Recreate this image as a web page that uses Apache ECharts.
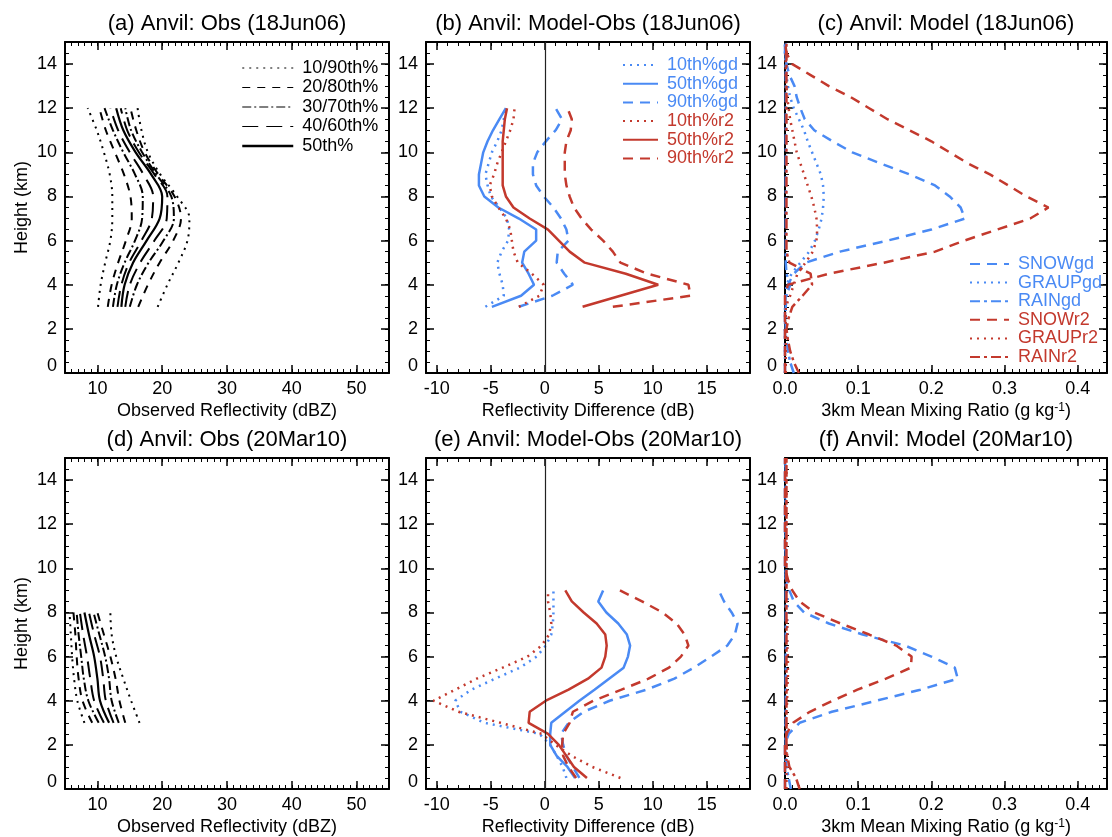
<!DOCTYPE html>
<html>
<head>
<meta charset="utf-8">
<script src="https://cdn.jsdelivr.net/npm/echarts@6/dist/echarts.min.js"></script>
<style>
  html, body { margin: 0; padding: 0; background: #fff; }
  #chart { width: 1112px; height: 837px; }
</style>
</head>
<body>
<div id="chart"></div>
<script>
// ---------- profile data ----------
// (a) observed reflectivity percentiles, 18Jun06 (dBZ) at heights H_A (km)
const H_A = [3, 4, 5, 6, 7, 8, 9, 10, 11, 12];
const A_P10 = [10.1, 10.5, 11.2, 12.0, 12.3, 12.3, 11.9, 11.0, 9.9, 8.5];
const A_P20 = [11.6, 12.2, 13.2, 14.4, 15.3, 15.1, 14.1, 12.7, 11.3, 10.3];
const A_P30 = [12.4, 13.0, 14.2, 15.8, 16.9, 17.0, 15.8, 14.0, 12.4, 11.1];
const A_P40 = [13.1, 13.7, 14.9, 16.8, 18.4, 18.6, 17.1, 15.0, 13.2, 12.0];
const A_P50 = [13.7, 14.2, 15.5, 17.6, 19.6, 20.0, 18.3, 15.9, 14.0, 12.9];
const A_P60 = [14.3, 15.0, 16.6, 18.8, 20.7, 20.8, 18.8, 16.4, 14.6, 13.6];
const A_P70 = [15.0, 16.1, 17.9, 20.2, 21.8, 21.4, 19.1, 16.9, 15.2, 14.3];
const A_P80 = [16.3, 17.8, 19.6, 21.7, 22.9, 21.9, 19.4, 17.3, 16.0, 15.1];
const A_P90 = [19.3, 20.8, 22.5, 23.9, 24.2, 22.3, 19.7, 17.8, 16.8, 16.2];

// (d) observed reflectivity percentiles, 20Mar10 (dBZ)
const H_D = [3, 4, 5, 6, 7, 8];
const D_P10 = [8.0, 6.9, 6.4, 6.1, 5.9, 5.7];
const D_P20 = [9.2, 7.7, 7.1, 6.8, 6.6, 6.3];
const D_P30 = [10.2, 8.6, 7.9, 7.5, 7.1, 6.8];
const D_P40 = [11.0, 9.5, 8.9, 8.4, 7.8, 7.3];
const D_P50 = [11.8, 10.4, 10.0, 9.5, 8.7, 8.0];
const D_P60 = [12.5, 11.3, 10.9, 10.4, 9.5, 8.7];
const D_P70 = [13.3, 12.2, 11.8, 11.2, 10.3, 9.4];
const D_P80 = [14.3, 13.4, 12.8, 12.0, 11.0, 10.0];
const D_P90 = [16.5, 15.2, 14.0, 12.9, 12.2, 12.0];

// (b) model minus observed reflectivity, 18Jun06 (dB)
const H_B = [3, 3.5, 4, 4.5, 5, 5.5, 6, 6.5, 7, 7.5, 8, 8.5, 9, 9.5, 10, 10.5, 11, 11.5, 12];
const B_GD10 = [-5.5, -3.8, -3.9, -4.2, -4.4, -4.0, -3.4, -3.3, -3.5, -4.2, -5.0, -5.3, -5.5, -5.2, -4.9, -4.4, -4.0, -3.8, -3.6];
const B_GD50 = [-4.9, -2.2, -1.0, -1.5, -2.1, -1.9, -0.8, -0.8, -2.4, -4.3, -5.6, -6.1, -6.1, -5.9, -5.7, -5.3, -4.8, -4.2, -3.6];
const B_GD90 = [-2.4, 0.7, 2.6, 1.8, 1.1, 1.2, 2.2, 2.0, 1.5, 0.8, -0.1, -0.8, -1.1, -1.1, -0.7, 0.1, 1.0, 1.6, 1.0];
const B_R210 = [-2.4, -0.5, -0.1, -1.2, -2.5, -2.9, -3.05, -3.2, -3.6, -4.3, -4.9, -5.1, -4.7, -4.4, -4.0, -3.6, -3.2, -2.9, -2.8];
const B_R250 = [3.5, 7.0, 10.5, 7.5, 3.7, 2.3, 1.3, 0.3, -1.4, -2.9, -3.6, -3.9, -3.9, -3.9, -3.9, -3.9, -3.8, -3.7, -3.5];
const B_R290 = [6.3, 13.5, 13.3, 9.5, 7.0, 6.3, 5.4, 4.3, 3.4, 2.7, 2.3, 2.0, 1.85, 1.85, 1.85, 2.0, 2.4, 2.5, 2.1];

// (e) model minus observed reflectivity, 20Mar10 (dB)
const H_E = [0.5, 1, 1.5, 2, 2.5, 3, 3.5, 4, 4.5, 5, 5.5, 6, 6.5, 7, 7.5, 8, 8.5, 9];
const E_GD10 = [2.0, 1.65, 1.1, 0.5, -0.5, -5.6, -7.8, -8.3, -6.8, -4.6, -2.3, -0.75, 0.1, 0.6, 0.75, 0.8, 0.8, 0.8];
const E_GD50 = [2.8, 2.1, 1.1, 0.5, 0.5, 0.6, 1.9, 3.2, 4.6, 5.95, 7.3, 7.7, 7.9, 7.6, 6.8, 5.7, 4.95, 5.4];
const E_GD90 = [3.2, 2.6, 2.0, 1.7, 1.5, 2.2, 3.6, 6.0, 9.4, 12.0, 13.8, 15.4, 16.9, 17.6, 17.85, 17.3, 16.6, 16.1];
const E_R210 = [7.0, 4.4, 2.5, 1.0, -0.3, -4.1, -8.0, -10.3, -8.3, -6.3, -3.9, -1.6, -0.3, 0.4, 0.6, 0.5, 0.3, 0.3];
const E_R250 = [3.9, 2.7, 2.0, 1.3, 0.3, -1.5, -1.4, 0.1, 2.2, 4.0, 5.25, 5.6, 5.73, 5.6, 4.8, 3.6, 2.5, 1.9];
const E_R290 = [2.9, 2.2, 1.7, 1.6, 1.7, 2.3, 2.6, 4.5, 7.1, 9.6, 11.5, 12.6, 13.3, 12.95, 12.2, 10.9, 9.0, 6.96];

// (c)/(f) 3 km mean hydrometeor mixing ratios (g/kg)
const H_C = [0, 0.5, 1, 1.5, 2, 2.5, 3, 3.5, 4, 4.5, 5, 5.5, 6, 6.5, 7, 7.5, 8, 8.5, 9, 9.5, 10, 10.5, 11, 11.5, 12, 12.5, 13, 13.5, 14, 14.5, 15];
const C_SNOWGD  = [0, 0, 0, 0, 0, 0, 0, 0.001, 0.004, 0.012, 0.028, 0.075, 0.14, 0.2, 0.246, 0.24, 0.225, 0.205, 0.17, 0.13, 0.092, 0.065, 0.04, 0.027, 0.021, 0.016, 0.013, 0.006, 0.002, 0, 0];
const C_GRAUPGD = [0, 0, 0, 0, 0, 0, 0, 0.001, 0.002, 0.009, 0.021, 0.033, 0.041, 0.046, 0.05, 0.052, 0.053, 0.052, 0.049, 0.043, 0.037, 0.031, 0.026, 0.019, 0.012, 0.007, 0.004, 0.002, 0.001, 0, 0];
const C_RAINGD  = [0.012, 0.007, 0.004, 0.002, 0.001, 0.001, 0.001, 0.002, 0.007, 0.002, 0.001, 0.001, 0.001, 0.001, 0.001, 0.001, 0.001, 0.001, 0.001, 0.001, 0.001, 0.001, 0.001, 0.001, 0.001, 0.001, 0.001, 0.001, 0.001, 0.001, 0.001];
const C_SNOWR2  = [0, 0, 0, 0, 0, 0, 0, 0, 0.004, 0.06, 0.135, 0.205, 0.245, 0.29, 0.335, 0.36, 0.33, 0.305, 0.28, 0.25, 0.225, 0.2, 0.17, 0.14, 0.115, 0.09, 0.06, 0.035, 0.01, 0.002, 0];
const C_GRAUPR2 = [0.001, 0.001, 0.001, 0.001, 0.001, 0.001, 0.001, 0.007, 0.012, 0.017, 0.028, 0.038, 0.043, 0.044, 0.043, 0.04, 0.036, 0.031, 0.026, 0.021, 0.016, 0.013, 0.01, 0.007, 0.005, 0.003, 0.002, 0.001, 0.001, 0.001, 0.001];
const C_RAINR2  = [0.019, 0.012, 0.007, 0.004, 0.002, 0.005, 0.01, 0.024, 0.037, 0.035, 0.006, 0.002, 0.002, 0.002, 0.002, 0.002, 0.002, 0.002, 0.002, 0.002, 0.002, 0.002, 0.002, 0.002, 0.002, 0.002, 0.002, 0.002, 0.002, 0.002, 0.002];

const F_SNOWGD  = [0, 0, 0, 0, 0, 0.005, 0.02, 0.064, 0.125, 0.185, 0.236, 0.232, 0.2, 0.164, 0.106, 0.06, 0.026, 0.012, 0.006, 0.002, 0, 0, 0, 0, 0, 0, 0, 0, 0, 0, 0];
const F_GRAUPGD = [0.001, 0.001, 0.001, 0.001, 0.001, 0.001, 0.001, 0.001, 0.002, 0.002, 0.003, 0.003, 0.003, 0.003, 0.003, 0.003, 0.003, 0.004, 0.002, 0.001, 0.001, 0.001, 0.001, 0.001, 0.001, 0.001, 0.001, 0.001, 0.001, 0.001, 0.001];
const F_RAINGD  = [0.008, 0.005, 0.002, 0.001, 0.001, 0.001, 0.001, 0.001, 0.001, 0.001, 0.001, 0.001, 0.001, 0.001, 0.001, 0.001, 0.001, 0.001, 0.001, 0.001, 0.001, 0.001, 0.001, 0.001, 0.001, 0.001, 0.001, 0.001, 0.001, 0.001, 0.001];
const F_SNOWR2  = [0, 0, 0, 0, 0, 0.002, 0.011, 0.034, 0.065, 0.099, 0.138, 0.172, 0.173, 0.152, 0.115, 0.076, 0.04, 0.02, 0.01, 0.004, 0, 0, 0, 0, 0, 0, 0, 0, 0, 0, 0];
const F_GRAUPR2 = [0.002, 0.002, 0.002, 0.002, 0.002, 0.002, 0.002, 0.002, 0.003, 0.003, 0.004, 0.004, 0.004, 0.003, 0.003, 0.003, 0.002, 0.002, 0.002, 0.002, 0.002, 0.002, 0.002, 0.002, 0.002, 0.002, 0.002, 0.002, 0.002, 0.002, 0.002];
const F_RAINR2  = [0.02, 0.015, 0.006, 0.003, 0.002, 0.002, 0.002, 0.002, 0.002, 0.002, 0.002, 0.002, 0.002, 0.002, 0.002, 0.002, 0.002, 0.002, 0.002, 0.002, 0.002, 0.002, 0.002, 0.002, 0.002, 0.002, 0.002, 0.002, 0.002, 0.002, 0.002];

// ---------- axes / tick labels ----------
const Y_TICKS = [0, 2, 4, 6, 8, 10, 12, 14];
const X_TICKS_OBS = [10, 20, 30, 40, 50];
const X_TICKS_DIFF = [-10, -5, 0, 5, 10, 15];
const X_TICKS_MIX = [0, 0.1, 0.2, 0.3, 0.4];

const TITLES = [
  '(a) Anvil: Obs (18Jun06)', '(b) Anvil: Model-Obs (18Jun06)', '(c) Anvil: Model (18Jun06)',
  '(d) Anvil: Obs (20Mar10)', '(e) Anvil: Model-Obs (20Mar10)', '(f) Anvil: Model (20Mar10)'
];
const X_NAMES = ['Observed Reflectivity (dBZ)', 'Reflectivity Difference (dB)', '3km Mean Mixing Ratio (g kg{sup|-1})'];

// ---------- styling ----------
const FONT = '"Liberation Sans", Arial, Helvetica, sans-serif';
const BLUE = '#4a8af4';
const RED = '#c3392d';
const BLACK = '#000';

const COL_LEFT = [65, 426, 785];
const COL_WIDTH = [324, 324, 322];
const ROW_TOP = [42, 458];
const ROW_HEIGHT = 331;

const X_RANGE = [[5, 55], [-11, 19], [0, 0.44]];
const X_MINOR = [1, 1, 0.01];
const X_MAJOR = [X_TICKS_OBS, X_TICKS_DIFF, X_TICKS_MIX];
const X_FMT = [v => String(v), v => String(v), v => v.toFixed(1)];

const grids = [];
const xAxes = [];
const yAxes = [];
const titles = [];

for (let r = 0; r < 2; r++) {
  for (let c = 0; c < 3; c++) {
    const g = r * 3 + c;
    grids.push({ left: COL_LEFT[c], top: ROW_TOP[r], width: COL_WIDTH[c], height: ROW_HEIGHT, containLabel: false });
    titles.push({
      text: TITLES[g], left: COL_LEFT[c] + COL_WIDTH[c] / 2, top: r === 0 ? 13 : 429,
      textAlign: 'center', padding: 0,
      textStyle: { fontFamily: FONT, fontSize: 22, fontWeight: 'normal', color: BLACK }
    });
    const xb = { gridIndex: g, type: 'value', min: X_RANGE[c][0], max: X_RANGE[c][1], splitLine: { show: false } };
    // major bottom axis with labels and title
    xAxes.push(Object.assign({}, xb, {
      position: 'bottom',
      axisLine: { show: true, onZero: false, lineStyle: { color: BLACK, width: 2 } },
      axisTick: { show: true, inside: true, length: 8, customValues: X_MAJOR[c], lineStyle: { color: BLACK, width: 1.5 } },
      axisLabel: { show: true, customValues: X_MAJOR[c], formatter: X_FMT[c], margin: 7, color: BLACK, fontFamily: FONT, fontSize: 18 },
      name: X_NAMES[c], nameLocation: 'middle', nameGap: 29,
      nameTextStyle: {
        fontFamily: FONT, fontSize: 18, color: BLACK,
        rich: { sup: { fontFamily: FONT, fontSize: 12, color: BLACK, verticalAlign: 'top', lineHeight: 12 } }
      }
    }));
    // major top axis
    xAxes.push(Object.assign({}, xb, {
      position: 'top',
      axisLine: { show: true, onZero: false, lineStyle: { color: BLACK, width: 2 } },
      axisTick: { show: true, inside: true, length: 8, customValues: X_MAJOR[c], lineStyle: { color: BLACK, width: 1.5 } },
      axisLabel: { show: false }
    }));
    // minor ticks, both sides
    for (const pos of ['bottom', 'top']) {
      xAxes.push(Object.assign({}, xb, {
        position: pos, interval: X_MINOR[c],
        axisLine: { show: false, onZero: false },
        axisTick: { show: true, inside: true, length: 4, lineStyle: { color: BLACK, width: 1 } },
        axisLabel: { show: false }
      }));
    }
    const yb = { gridIndex: g, type: 'value', min: 0, max: 15, splitLine: { show: false } };
    yAxes.push(Object.assign({}, yb, {
      position: 'left',
      axisLine: { show: true, onZero: false, lineStyle: { color: BLACK, width: 2 } },
      axisTick: { show: true, inside: true, length: 8, customValues: Y_TICKS, lineStyle: { color: BLACK, width: 1.5 } },
      axisLabel: {
        show: true, customValues: Y_TICKS, margin: 8, color: BLACK, fontFamily: FONT, fontSize: 18,
        formatter: v => (v === 0 ? '{z|0}' : String(v)),
        rich: { z: { fontFamily: FONT, fontSize: 18, color: BLACK, padding: [0, 0, 14, 0] } }
      },
      name: c === 0 ? 'Height (km)' : '', nameLocation: 'middle', nameGap: 34, nameRotate: 90,
      nameTextStyle: { fontFamily: FONT, fontSize: 18, color: BLACK }
    }));
    yAxes.push(Object.assign({}, yb, {
      position: 'right',
      axisLine: { show: true, onZero: false, lineStyle: { color: BLACK, width: 2 } },
      axisTick: { show: true, inside: true, length: 8, customValues: Y_TICKS, lineStyle: { color: BLACK, width: 1.5 } },
      axisLabel: { show: false }
    }));
    for (const pos of ['left', 'right']) {
      yAxes.push(Object.assign({}, yb, {
        position: pos, interval: 0.5,
        axisLine: { show: false, onZero: false },
        axisTick: { show: true, inside: true, length: 4, lineStyle: { color: BLACK, width: 1 } },
        axisLabel: { show: false }
      }));
    }
  }
}

// ---------- series ----------
const DOT = [2, 5];
const DASH = [10, 7];
const DASHDOT = [10, 4, 3, 4];
const series = [];

function profile(name, g, xs, hs, color, width, dash, extra) {
  series.push(Object.assign({
    type: 'line', name: name, xAxisIndex: 4 * g, yAxisIndex: 4 * g,
    data: hs.map((h, i) => [xs[i], h]),
    symbol: 'none', showSymbol: false, silent: true, animation: false,
    itemStyle: { color: color },
    lineStyle: { color: color, width: width, type: dash, cap: 'butt' }
  }, extra || {}));
}

// observed percentile envelopes
const OBS_STYLE = {
  '10/90th%': [2, 5], '20/80th%': [8, 7], '30/70th%': [9, 3, 2, 3], '40/60th%': [16, 8], '50th%': 'solid'
};
function obsPanel(g, H, p) {
  const sm = { smooth: 0.35 };
  profile('10/90th%', g, p[0], H, BLACK, 2, OBS_STYLE['10/90th%'], sm);
  profile('20/80th%', g, p[1], H, BLACK, 2, OBS_STYLE['20/80th%'], sm);
  profile('30/70th%', g, p[2], H, BLACK, 2, OBS_STYLE['30/70th%'], sm);
  profile('40/60th%', g, p[3], H, BLACK, 2, OBS_STYLE['40/60th%'], sm);
  profile('50th%', g, p[4], H, BLACK, 2.2, 'solid', sm);
  profile('40/60th%', g, p[5], H, BLACK, 2, OBS_STYLE['40/60th%'], sm);
  profile('30/70th%', g, p[6], H, BLACK, 2, OBS_STYLE['30/70th%'], sm);
  profile('20/80th%', g, p[7], H, BLACK, 2, OBS_STYLE['20/80th%'], sm);
  profile('10/90th%', g, p[8], H, BLACK, 2, OBS_STYLE['10/90th%'], sm);
}
obsPanel(0, H_A, [A_P10, A_P20, A_P30, A_P40, A_P50, A_P60, A_P70, A_P80, A_P90]);
obsPanel(3, H_D, [D_P10, D_P20, D_P30, D_P40, D_P50, D_P60, D_P70, D_P80, D_P90]);

// model minus observations
const zeroLine = {
  markLine: {
    silent: true, symbol: 'none', animation: false, label: { show: false },
    lineStyle: { color: '#222', width: 1.2, type: 'solid' },
    data: [{ xAxis: 0 }]
  }
};
function diffPanel(g, H, d) {
  profile('10th%gd', g, d[0], H, BLUE, 2.5, DOT, zeroLine);
  profile('50th%gd', g, d[1], H, BLUE, 2.5, 'solid');
  profile('90th%gd', g, d[2], H, BLUE, 2.5, DASH);
  profile('10th%r2', g, d[3], H, RED, 2.5, DOT);
  profile('50th%r2', g, d[4], H, RED, 2.5, 'solid');
  profile('90th%r2', g, d[5], H, RED, 2.5, DASH);
}
diffPanel(1, H_B, [B_GD10, B_GD50, B_GD90, B_R210, B_R250, B_R290]);
diffPanel(4, H_E, [E_GD10, E_GD50, E_GD90, E_R210, E_R250, E_R290]);

// hydrometeor mixing ratios
function mixPanel(g, m) {
  profile('SNOWgd', g, m[0], H_C, BLUE, 2.5, DASH);
  profile('GRAUPgd', g, m[1], H_C, BLUE, 2.5, DOT);
  profile('RAINgd', g, m[2], H_C, BLUE, 2.5, DASHDOT);
  profile('SNOWr2', g, m[3], H_C, RED, 2.5, DASH);
  profile('GRAUPr2', g, m[4], H_C, RED, 2.5, DOT);
  profile('RAINr2', g, m[5], H_C, RED, 2.5, DASHDOT);
}
mixPanel(2, [C_SNOWGD, C_GRAUPGD, C_RAINGD, C_SNOWR2, C_GRAUPR2, C_RAINR2]);
mixPanel(5, [F_SNOWGD, F_GRAUPGD, F_RAINGD, F_SNOWR2, F_GRAUPR2, F_RAINR2]);

// ---------- legends ----------
function legendItems(names, colors, widths) {
  return names.map((n, i) => {
    const item = {
      name: n,
      textStyle: { color: colors[i], fontFamily: FONT, fontSize: 18, padding: [0, 0, 0, 4] }
    };
    if (widths) item.lineStyle = { width: widths[i] };
    return item;
  });
}
const legendBase = {
  orient: 'vertical', selectedMode: false, padding: 0, itemHeight: 14,
  itemStyle: { opacity: 0 }
};
const legends = [
  Object.assign({}, legendBase, {
    left: 241, top: 59, itemWidth: 51, itemGap: 1.5,
    data: legendItems(['10/90th%', '20/80th%', '30/70th%', '40/60th%', '50th%'],
      [BLACK, BLACK, BLACK, BLACK, BLACK], [1.2, 1.2, 1.2, 1.2, 2.5])
  }),
  Object.assign({}, legendBase, {
    left: 622, top: 56, itemWidth: 35, itemGap: 0.7,
    data: legendItems(['10th%gd', '50th%gd', '90th%gd', '10th%r2', '50th%r2', '90th%r2'],
      [BLUE, BLUE, BLUE, RED, RED, RED])
  }),
  Object.assign({}, legendBase, {
    left: 969, top: 255, itemWidth: 39, itemGap: 0.6,
    data: legendItems(['SNOWgd', 'GRAUPgd', 'RAINgd', 'SNOWr2', 'GRAUPr2', 'RAINr2'],
      [BLUE, BLUE, BLUE, RED, RED, RED])
  })
];

const chart = echarts.init(document.getElementById('chart'), null, { renderer: 'canvas' });
chart.setOption({
  animation: false,
  backgroundColor: '#fff',
  title: titles,
  grid: grids,
  xAxis: xAxes,
  yAxis: yAxes,
  legend: legends,
  series: series
});
</script>
</body>
</html>
